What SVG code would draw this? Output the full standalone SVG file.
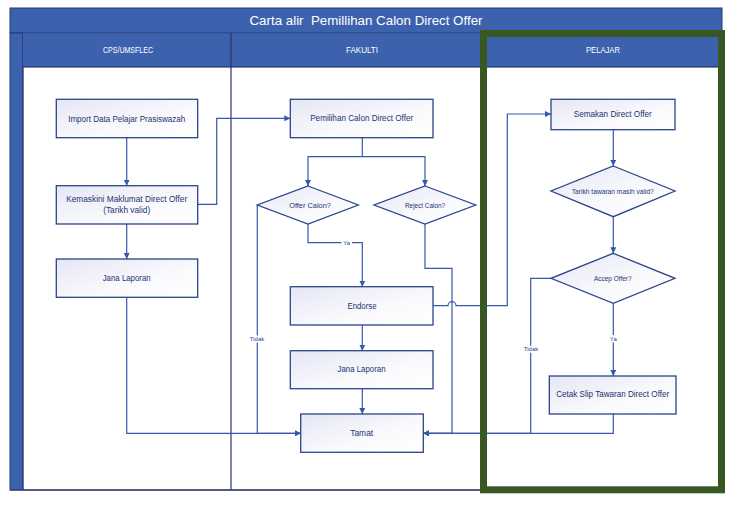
<svg xmlns="http://www.w3.org/2000/svg" width="736" height="507" viewBox="0 0 736 507">
<style>
.hdr{fill:#3d62ad}
.hl{fill:none;stroke:#243a78;stroke-width:1}
.lane{fill:none;stroke:#2b3566;stroke-width:1.2}
.box{fill:url(#bg);stroke:#2c4488;stroke-width:1.3}
.t{font-family:"Liberation Sans",Arial,sans-serif;font-size:8.5px;fill:#1c3370;text-anchor:middle;dominant-baseline:central}
.ht{font-family:"Liberation Sans",Arial,sans-serif;font-size:9px;fill:#ffffff;text-anchor:middle;dominant-baseline:central}
.lb{font-family:"Liberation Sans",Arial,sans-serif;font-size:6px;fill:#2c4488;text-anchor:middle;dominant-baseline:central}
.c{fill:none;stroke:#3559a8;stroke-width:1.2}
.lbg{fill:#ffffff}
</style>
<defs>
<linearGradient id="bg" x1="0" y1="0" x2="1" y2="1">
<stop offset="0" stop-color="#e4e6f4"/>
<stop offset="0.6" stop-color="#fafafd"/>
<stop offset="1" stop-color="#ffffff"/>
</linearGradient>
<marker id="ar" viewBox="0 0 6 6" markerWidth="6" markerHeight="6" refX="6" refY="3" markerUnits="userSpaceOnUse" orient="auto">
<path d="M0,0 L6,3 L0,6 z" fill="#3559a8"/>
</marker>
</defs>
<rect width="736" height="507" fill="#ffffff"/>
<g id="pool">
<rect x="23" y="67" width="699" height="423" fill="#ffffff" class="lane"/>
<rect x="10" y="8" width="712" height="25" class="hdr"/>
<rect x="10" y="8" width="712" height="25" class="hl"/>
<text x="366" y="20.5" class="ht" style="font-size:13px;white-space:pre" xml:space="preserve" textLength="233" lengthAdjust="spacingAndGlyphs">Carta alir  Pemillihan Calon Direct Offer</text>
<rect x="10" y="33" width="13" height="457" class="hdr"/>
<rect x="10" y="33" width="12.7" height="457" class="hl"/>
<rect x="23" y="33" width="699" height="34" class="hdr"/>
<line x1="23" y1="66.5" x2="722" y2="66.5" stroke="#2a4a8a" stroke-width="1.2"/>
<line x1="23" y1="33" x2="722" y2="33" stroke="#2f4f90" stroke-width="1"/>
<line x1="231" y1="33" x2="231" y2="490" class="lane"/>
<line x1="484" y1="33" x2="484" y2="490" class="lane"/>
<line x1="10" y1="490" x2="722" y2="490" class="lane"/>
<text x="128" y="50" class="ht" textLength="50" lengthAdjust="spacingAndGlyphs">CPS/UMSFLEC</text>
<text x="362" y="50" class="ht" textLength="32" lengthAdjust="spacingAndGlyphs">FAKULTI</text>
<text x="603" y="50" class="ht" textLength="34" lengthAdjust="spacingAndGlyphs">PELAJAR</text>
</g>
<g id="connectors">
<path class="c" d="M126.7,137.7 V185.7" marker-end="url(#ar)"/>
<path class="c" d="M126.7,224 V259" marker-end="url(#ar)"/>
<path class="c" d="M126.7,297.3 V433.3 H300.7" marker-end="url(#ar)"/>
<path class="c" d="M197.7,204.3 H216.7 V118.3 H290.3" marker-end="url(#ar)"/>
<path class="c" d="M362.3,137.7 V156.7 H308 V186" marker-end="url(#ar)"/>
<path class="c" d="M362.3,156.7 H425 V186" marker-end="url(#ar)"/>
<path class="c" d="M308,224 V242.7 H362.3 V286.7" marker-end="url(#ar)"/>
<path class="c" d="M257.3,205 V433.3 H300.7" marker-end="url(#ar)"/>
<path class="c" d="M425,224 V268.3 H452 V433.3 H423.3" marker-end="url(#ar)"/>
<path class="c" d="M362.3,325 V350.7" marker-end="url(#ar)"/>
<path class="c" d="M362.3,388.7 V414" marker-end="url(#ar)"/>
<path class="c" d="M433,305.7 H448 A4,4 0 0 1 456,305.7 H507.3 V114 H551" marker-end="url(#ar)"/>
<path class="c" d="M613.3,129.7 V166" marker-end="url(#ar)"/>
<path class="c" d="M613.3,216.7 V253.3" marker-end="url(#ar)"/>
<path class="c" d="M613.3,303.3 V376" marker-end="url(#ar)"/>
<path class="c" d="M551,278.3 H530.7 V433.3 H423.3" marker-end="url(#ar)"/>
<path class="c" d="M613.3,414 V433.3 H423.3" marker-end="url(#ar)"/>
<rect class="lbg" x="341.5" y="239" width="10.5" height="7.4"/>
<text class="lb" x="346.7" y="242.7">Ya</text>
<rect class="lbg" x="248" y="335.5" width="18" height="7"/>
<text class="lb" x="257" y="339">Tidak</text>
<rect class="lbg" x="522" y="345.8" width="18" height="7"/>
<text class="lb" x="531" y="349.3">Tidak</text>
<rect class="lbg" x="608" y="335" width="10.5" height="7.4"/>
<text class="lb" x="613.3" y="338.7">Ya</text>
</g>
<g id="import">
<rect class="box" x="56.3" y="99.3" width="141.4" height="38.4"/>
<text class="t" x="126.7" y="118.5" textLength="117" lengthAdjust="spacingAndGlyphs">Import Data Pelajar Prasiswazah</text>
</g>
<g id="kemaskini">
<rect class="box" x="56.3" y="185.7" width="141.4" height="38.3"/>
<text class="t" x="126.7" y="199" textLength="121" lengthAdjust="spacingAndGlyphs">Kemaskini Maklumat Direct Offer</text>
<text class="t" x="126.7" y="210" textLength="47" lengthAdjust="spacingAndGlyphs">(Tarikh valid)</text>
</g>
<g id="jana1">
<rect class="box" x="56.3" y="259" width="141.4" height="38.3"/>
<text class="t" x="126.7" y="277.7" textLength="48" lengthAdjust="spacingAndGlyphs">Jana Laporan</text>
</g>
<g id="pemilihan">
<rect class="box" x="290.3" y="99.3" width="142.7" height="38.4"/>
<text class="t" x="361.7" y="118.3" textLength="103" lengthAdjust="spacingAndGlyphs">Pemilihan Calon Direct Offer</text>
</g>
<g id="offer">
<path class="box" d="M308,186 L358.3,205 L308,224 L257.3,205 Z"/>
<text class="t" style="font-size:6.5px" x="310" y="205" textLength="41.7" lengthAdjust="spacingAndGlyphs">Offer Calon?</text>
</g>
<g id="reject">
<path class="box" d="M425,186 L475.7,205 L425,224 L374,205 Z"/>
<text class="t" style="font-size:6.5px" x="425" y="205" textLength="40" lengthAdjust="spacingAndGlyphs">Reject Calon?</text>
</g>
<g id="endorse">
<rect class="box" x="290.3" y="286.7" width="142.7" height="38.3"/>
<text class="t" x="362" y="305.7" textLength="29" lengthAdjust="spacingAndGlyphs">Endorse</text>
</g>
<g id="jana2">
<rect class="box" x="290.3" y="350.7" width="142.7" height="38"/>
<text class="t" x="361.5" y="369.3" textLength="48" lengthAdjust="spacingAndGlyphs">Jana Laporan</text>
</g>
<g id="tamat">
<rect class="box" x="300.7" y="414" width="122.6" height="38.3"/>
<text class="t" x="361.7" y="433.3" textLength="23" lengthAdjust="spacingAndGlyphs">Tamat</text>
</g>
<g id="semakan">
<rect class="box" x="551" y="99.3" width="124" height="30.4"/>
<text class="t" x="612.8" y="114" textLength="78" lengthAdjust="spacingAndGlyphs">Semakan Direct Offer</text>
</g>
<g id="tarikh">
<path class="box" d="M613.3,166 L675,191 L613.3,216.7 L551,191 Z"/>
<text class="t" style="font-size:6.5px" x="612.8" y="191" textLength="82" lengthAdjust="spacingAndGlyphs">Tarikh tawaran masih valid?</text>
</g>
<g id="accep">
<path class="box" d="M613.3,253.3 L675,278.3 L613.3,303.3 L551,278.3 Z"/>
<text class="t" style="font-size:6.5px" x="612.8" y="278.3" textLength="37.7" lengthAdjust="spacingAndGlyphs">Accep Offer?</text>
</g>
<g id="cetak">
<rect class="box" x="549.3" y="376" width="126.7" height="38"/>
<text class="t" x="612.7" y="394.3" textLength="113" lengthAdjust="spacingAndGlyphs">Cetak Slip Tawaran Direct Offer</text>
</g>
<g id="highlight">
<rect x="483.5" y="33.5" width="238" height="456.3" fill="none" stroke="#385723" stroke-width="7"/>
</g>
</svg>
